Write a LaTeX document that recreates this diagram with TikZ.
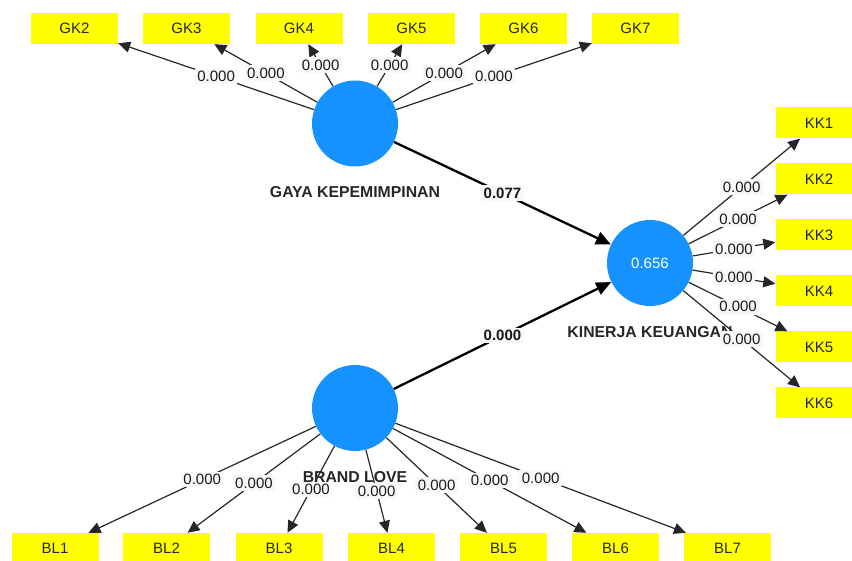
\documentclass[tikz,border=0pt]{standalone}
\usepackage{fontspec}
\setmainfont{Liberation Sans}
\usetikzlibrary{arrows.meta}
\definecolor{lvblue}{RGB}{22,146,255}
\definecolor{mvyellow}{RGB}{255,255,0}
\definecolor{wtbg}{RGB}{248,248,248}
\begin{document}
\begin{tikzpicture}[x=1pt,y=-1pt,
  ind/.style={fill=mvyellow, minimum width=87pt, minimum height=31pt, inner sep=0pt,
    text=black!85, font=\fontsize{15}{17}\selectfont},
  lv/.style={circle, fill=lvblue, minimum size=86pt, inner sep=0pt, text=white,
    font=\fontsize{15}{17}\selectfont},
  lvname/.style={font=\bfseries\fontsize{15.8}{18}\selectfont, text=black!85},
  ld/.style={draw=black!85, line width=1.2pt, -{Triangle[length=12pt,width=11pt]}},
  structline/.style={draw=black, line width=2.3pt, -{Triangle[length=15pt,width=13pt]}},
  wt/.style={fill=wtbg, inner sep=2.5pt, text=black!90, font=\fontsize{15}{17}\selectfont},
  wtb/.style={wt, font=\bfseries\fontsize{15}{17}\selectfont}
]
\useasboundingbox (0,0) rectangle (852,561);
\clip (0,0) rectangle (852,561);
% latent variables
\node[lv] (GK) at (355,123.5) {};
\node[lv] (KK) at (650,263) {0.656};
\node[lv] (BL) at (355,408) {};
\node[lvname] (GKn) at (355,192) {GAYA KEPEMIMPINAN};
\node[lvname] (KKn) at (650,332) {KINERJA KEUANGAN};
\node[lvname] (BLn) at (355,477) {BRAND LOVE};
% GK indicators
\node[ind] (GK2) at (74.5,28.5) {GK2};
\node[ind] (GK3) at (186.5,28.5) {GK3};
\node[ind] (GK4) at (299,28.5) {GK4};
\node[ind] (GK5) at (411.5,28.5) {GK5};
\node[ind] (GK6) at (523.5,28.5) {GK6};
\node[ind] (GK7) at (635.5,28.5) {GK7};
% KK indicators
\node[ind] (KK1) at (819,123) {KK1};
\node[ind] (KK2) at (819,179) {KK2};
\node[ind] (KK3) at (819,235) {KK3};
\node[ind] (KK4) at (819,291) {KK4};
\node[ind] (KK5) at (819,347) {KK5};
\node[ind] (KK6) at (819,403) {KK6};
% BL indicators
\node[ind] (BL1) at (55,548.5) {BL1};
\node[ind] (BL2) at (166.5,548.5) {BL2};
\node[ind] (BL3) at (279,548.5) {BL3};
\node[ind] (BL4) at (391.5,548.5) {BL4};
\node[ind] (BL5) at (503.5,548.5) {BL5};
\node[ind] (BL6) at (615.5,548.5) {BL6};
\node[ind] (BL7) at (727.5,548.5) {BL7};
% outer loadings
\foreach \i in {2,...,7} {
  \draw[ld] (GK) -- node[wt] {0.000} (GK\i);
}
\foreach \i in {1,...,6} {
  \draw[ld] (KK) -- node[wt] {0.000} (KK\i);
}
\foreach \i in {1,...,7} {
  \draw[ld] (BL) -- node[wt] {0.000} (BL\i);
}
% structural paths
\draw[structline] (GK) -- node[wtb] {0.077} (KK);
\draw[structline] (BL) -- node[wtb] {0.000} (KK);
\end{tikzpicture}
\end{document}
